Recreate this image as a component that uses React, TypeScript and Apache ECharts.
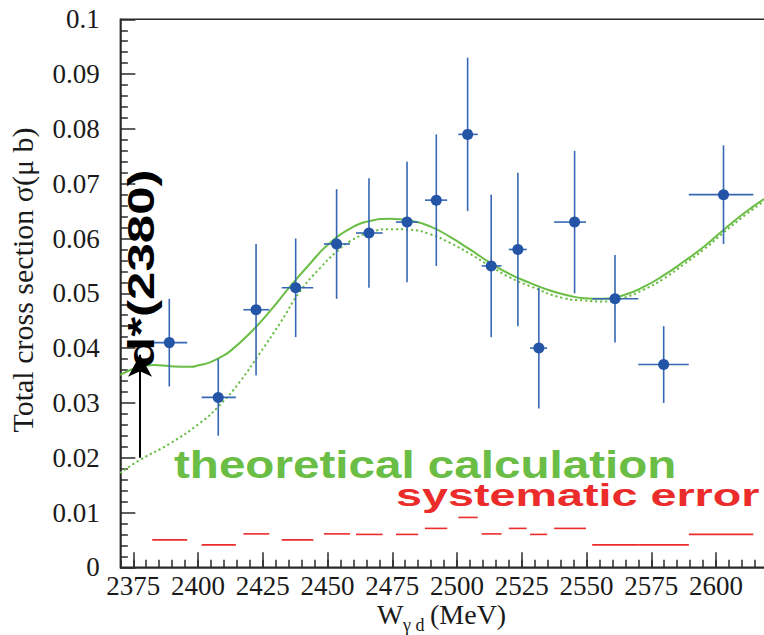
import React, { useEffect, useRef } from "react";
import * as echarts from "echarts";

// ---- data ----
const xMajorTicks = [2375, 2400, 2425, 2450, 2475, 2500, 2525, 2550, 2575, 2600];
const pointW = [2388.9, 2407.8, 2422.4, 2437.7, 2453.5, 2466.0, 2480.7, 2492.0, 2504.1, 2513.2, 2523.5, 2531.6, 2545.4, 2561.0, 2579.8, 2602.9];
const binLow = [2382.3, 2401.4, 2417.5, 2432.3, 2448.6, 2461.0, 2476.4, 2487.6, 2500.5, 2509.5, 2520.0, 2528.2, 2537.5, 2552.2, 2570.0, 2589.5];
const binHigh = [2395.8, 2414.6, 2427.5, 2444.5, 2458.7, 2471.3, 2485.0, 2496.2, 2508.0, 2517.2, 2526.9, 2534.8, 2549.8, 2570.0, 2589.5, 2614.4];
const sigma = [0.041, 0.031, 0.047, 0.051, 0.059, 0.061, 0.063, 0.067, 0.079, 0.055, 0.058, 0.040, 0.063, 0.049, 0.037, 0.068];
const errLow = [0.033, 0.024, 0.035, 0.042, 0.049, 0.051, 0.052, 0.055, 0.065, 0.042, 0.044, 0.029, 0.050, 0.041, 0.030, 0.059];
const errHigh = [0.049, 0.038, 0.059, 0.060, 0.069, 0.071, 0.074, 0.079, 0.093, 0.068, 0.072, 0.051, 0.076, 0.057, 0.044, 0.077];
const sysErr = [0.005, 0.0041, 0.0061, 0.005, 0.0061, 0.006, 0.006, 0.0071, 0.0091, 0.0061, 0.0071, 0.006, 0.0071, 0.0041, 0.0041, 0.006];

const solidW = [2369.9, 2377.6, 2383.0, 2389.2, 2396.9, 2400.7, 2404.6, 2408.5, 2412.3, 2420.0, 2427.7, 2435.5, 2443.2, 2450.0, 2458.7, 2466.4, 2474.1, 2481.8, 2489.6, 2497.3, 2505.0, 2512.7, 2520.4, 2528.2, 2535.9, 2543.0, 2549.0, 2556.7, 2564.5, 2572.2, 2579.9, 2587.6, 2595.3, 2603.0, 2610.8, 2618.5];
const solidV = [0.0351, 0.0366, 0.0369, 0.0367, 0.0366, 0.0369, 0.0374, 0.0383, 0.0394, 0.0427, 0.0467, 0.0512, 0.0554, 0.0588, 0.0618, 0.0632, 0.0636, 0.0633, 0.0622, 0.0603, 0.0580, 0.0556, 0.0535, 0.0519, 0.0505, 0.0496, 0.0491, 0.0490, 0.0497, 0.0512, 0.0533, 0.0558, 0.0585, 0.0616, 0.0646, 0.0672];
const dottedW = [2369.9, 2377.6, 2389.2, 2400.7, 2407.8, 2416.2, 2423.9, 2431.6, 2439.3, 2447.1, 2453.5, 2458.7, 2466.4, 2474.1, 2481.8, 2489.6, 2497.3, 2505.0, 2512.7, 2520.4, 2528.2, 2541.3, 2549.0, 2556.7, 2564.5, 2572.2, 2579.9, 2587.6, 2595.3, 2603.0, 2610.8, 2618.5];
const dottedV = [0.0172, 0.0196, 0.0226, 0.0263, 0.0293, 0.0339, 0.0391, 0.0445, 0.0503, 0.0546, 0.0576, 0.0595, 0.0611, 0.0617, 0.0616, 0.0608, 0.0592, 0.0572, 0.0550, 0.0529, 0.0513, 0.0491, 0.0487, 0.0485, 0.0492, 0.0507, 0.0527, 0.0553, 0.0580, 0.0611, 0.0641, 0.0668];

const arrowW = 2377.6;
const arrowFrom = 0.02;
const arrowTo = 0.0388;

const X_MIN = 2370;
const X_MAX = 2625;

const BLUE = "#2354a6";
const BAR_BLUE = "#3767b4";
const GREEN = "#6abd45";
const RED = "#ec2b2b";
const AXIS = "#2a2a2a";
const SERIF = "'Liberation Serif', 'DejaVu Serif', serif";
const SANS = "'Liberation Sans', Arial, sans-serif";

export default function App() {
  const ref = useRef<HTMLDivElement>(null);

  useEffect(() => {
    if (!ref.current) return;
    const chart = echarts.init(ref.current, undefined, { renderer: "svg" });

    const minorTicks: number[] = [];
    for (let v = X_MIN; v <= X_MAX; v += 5) minorTicks.push(v);

    const pointRows = pointW.map((w, i) => [w, sigma[i], binLow[i], binHigh[i], errLow[i], errHigh[i]]);
    const sysRows = binLow.map((lo, i) => [lo, binHigh[i], sysErr[i]]);

    const option: any = {
      animation: false,
      backgroundColor: "#ffffff",
      textStyle: { fontFamily: SERIF },
      grid: {
        left: 120.35,
        right: 19.26,
        top: 19.3,
        bottom: 67.7,
        containLabel: false,
        outerBoundsMode: "none",
        show: true,
        borderColor: AXIS,
        borderWidth: 1.5,
        backgroundColor: "transparent",
      },
      xAxis: [
        {
          type: "value",
          min: X_MIN,
          max: X_MAX,
          position: "bottom",
          axisLine: { show: true, lineStyle: { color: AXIS, width: 1.5 } },
          axisTick: {
            show: true,
            inside: true,
            length: 15,
            customValues: xMajorTicks,
            lineStyle: { color: AXIS, width: 1.5 },
          },
          axisLabel: {
            show: true,
            customValues: xMajorTicks,
            formatter: (v: number) => String(v),
            margin: 5,
            fontFamily: SERIF,
            fontSize: 27,
            color: "#1a1a1a",
          },
          splitLine: { show: false },
        },
        {
          type: "value",
          min: X_MIN,
          max: X_MAX,
          position: "bottom",
          axisLine: { show: false },
          axisTick: {
            show: true,
            inside: true,
            length: 7.5,
            customValues: minorTicks,
            lineStyle: { color: AXIS, width: 1.5 },
          },
          axisLabel: { show: false },
          splitLine: { show: false },
        },
      ],
      yAxis: {
        type: "value",
        min: 0,
        max: 0.1,
        interval: 0.01,
        axisLine: { show: true, lineStyle: { color: AXIS, width: 1.5 } },
        axisTick: { show: true, inside: true, length: 15, lineStyle: { color: AXIS, width: 1.5 } },
        minorTick: { show: true, splitNumber: 5, length: 7.5, lineStyle: { color: AXIS, width: 1.5 } },
        axisLabel: {
          margin: 20.5,
          fontFamily: SERIF,
          fontSize: 27,
          color: "#1a1a1a",
          formatter: (v: number) => String(Math.round(v * 1000) / 1000),
        },
        splitLine: { show: false },
      },
      series: [
        {
          type: "line",
          name: "solid",
          xAxisIndex: 0,
          data: solidW.map((w, i) => [w, solidV[i]]),
          smooth: 0.5,
          showSymbol: false,
          symbol: "none",
          lineStyle: { color: GREEN, width: 2 },
          z: 2,
        },
        {
          type: "line",
          name: "dotted",
          xAxisIndex: 0,
          data: dottedW.map((w, i) => [w, dottedV[i]]),
          smooth: 0.5,
          showSymbol: false,
          symbol: "none",
          lineStyle: { color: GREEN, width: 2, type: [2.2, 2.8] },
          z: 2,
        },
        {
          type: "custom",
          name: "sys",
          xAxisIndex: 0,
          data: sysRows,
          encode: { x: [0, 1], y: 2 },
          renderItem: (params: any, api: any) => {
            const a = api.coord([api.value(0), api.value(2)]);
            const b = api.coord([api.value(1), api.value(2)]);
            return {
              type: "line",
              shape: { x1: a[0], y1: a[1], x2: b[0], y2: b[1] },
              style: { stroke: RED, lineWidth: 1.6 },
            };
          },
          z: 3,
        },
        {
          type: "custom",
          name: "data",
          xAxisIndex: 0,
          data: pointRows,
          encode: { x: [0, 2, 3], y: [1, 4, 5] },
          renderItem: (params: any, api: any) => {
            const c = api.coord([api.value(0), api.value(1)]);
            const lo = api.coord([api.value(2), api.value(1)]);
            const hi = api.coord([api.value(3), api.value(1)]);
            const el = api.coord([api.value(0), api.value(4)]);
            const eh = api.coord([api.value(0), api.value(5)]);
            return {
              type: "group",
              children: [
                { type: "line", shape: { x1: lo[0], y1: c[1], x2: hi[0], y2: c[1] }, style: { stroke: BAR_BLUE, lineWidth: 1.6 } },
                { type: "line", shape: { x1: c[0], y1: el[1], x2: c[0], y2: eh[1] }, style: { stroke: BAR_BLUE, lineWidth: 1.6 } },
                { type: "circle", shape: { cx: c[0], cy: c[1], r: 5.5 }, style: { fill: BLUE } },
              ],
            };
          },
          z: 4,
        },
        {
          type: "line",
          name: "arrow",
          xAxisIndex: 0,
          data: [],
          markLine: {
            silent: true,
            symbol: ["none", "arrow"],
            symbolSize: [18, 22],
            label: { show: false },
            lineStyle: { color: "#000", width: 2, type: "solid" },
            data: [[{ coord: [arrowW, arrowFrom] }, { coord: [arrowW, arrowTo] }]],
          },
          z: 5,
        },
      ],
      graphic: [
        {
          type: "text",
          x: 22.9,
          y: 280,
          rotation: Math.PI / 2,
          style: {
            text: "Total cross section σ(μ b)",
            font: `30px ${SERIF}`,
            fill: "#1a1a1a",
            align: "center",
            verticalAlign: "middle",
          },
        },
        {
          type: "text",
          x: 377,
          y: 614,
          style: { text: "W", font: `28px ${SERIF}`, fill: "#1a1a1a", align: "left", verticalAlign: "middle" },
        },
        {
          type: "text",
          x: 403,
          y: 624.5,
          style: { text: "γ d", font: `18px ${SERIF}`, fill: "#1a1a1a", align: "left", verticalAlign: "middle" },
        },
        {
          type: "text",
          x: 430,
          y: 614,
          style: { text: "(MeV)", font: `28px ${SERIF}`, fill: "#1a1a1a", align: "left", verticalAlign: "middle" },
        },
        {
          type: "text",
          x: 141.5,
          y: 368,
          rotation: Math.PI / 2,
          scaleX: 1.38,
          style: { text: "d*(2380)", font: `bold 37px ${SANS}`, fill: "#000", align: "left", verticalAlign: "middle" },
          z: 10,
        },
        {
          type: "text",
          x: 174,
          y: 464.5,
          scaleX: 1.22,
          style: { text: "theoretical calculation", font: `bold 39px ${SANS}`, fill: GREEN, align: "left", verticalAlign: "middle" },
          z: 10,
        },
        {
          type: "text",
          x: 396,
          y: 495,
          scaleX: 1.46,
          style: { text: "systematic error", font: `bold 32px ${SANS}`, fill: RED, align: "left", verticalAlign: "middle" },
          z: 10,
        },
      ],
    };

    chart.setOption(option);
    return () => chart.dispose();
  }, []);

  return (
    <div
      style={{
        position: "absolute",
        left: 0,
        top: 0,
        width: 764,
        height: 635,
        overflow: "hidden",
        background: "#fff",
      }}
    >
      <div ref={ref} style={{ width: 800, height: 635 }} />
    </div>
  );
}
